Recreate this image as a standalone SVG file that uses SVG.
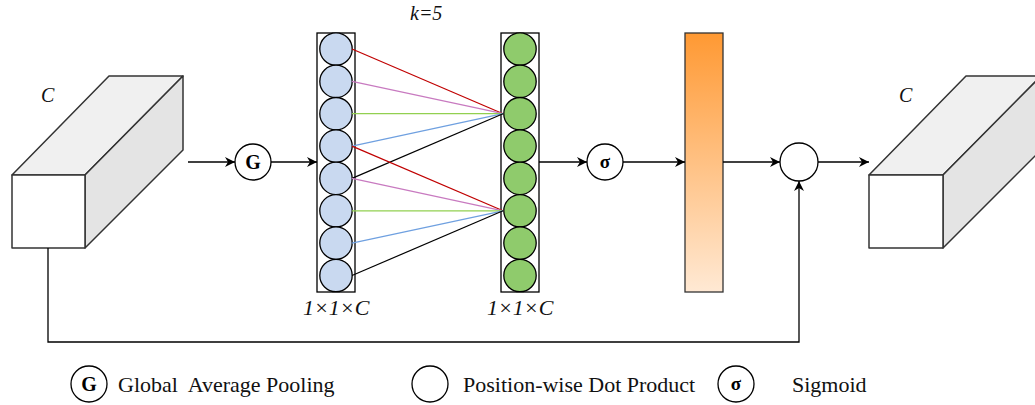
<svg xmlns="http://www.w3.org/2000/svg" width="1035" height="405" viewBox="0 0 1035 405">
  <defs>
    <marker id="arrow" viewBox="0 0 10 10" refX="10" refY="5" markerWidth="10" markerHeight="10" markerUnits="userSpaceOnUse" orient="auto">
      <path d="M0,0 L10,5 L0,10 L3,5 z" fill="#000"/>
    </marker>
    <linearGradient id="attn" x1="0" y1="0" x2="0" y2="1">
      <stop offset="0" stop-color="#FF9933"/>
      <stop offset="1" stop-color="#FFE9D4"/>
    </linearGradient>
    <style>
      .edge { stroke: #000; stroke-width: 1.3; fill: none; }
      .box { stroke: #333; stroke-width: 1.5; stroke-linejoin: round; }
      .op { fill: #fff; stroke: #000; stroke-width: 1.3; }
      .col { fill: #fff; stroke: #000; stroke-width: 1.3; }
      .cin { fill: #C9D9F0; stroke: #000; stroke-width: 1.3; }
      .cout { fill: #8FCB6C; stroke: #000; stroke-width: 1.3; }
      .k { stroke-width: 1.2; fill: none; }
    </style>
  </defs>

  <!-- input feature cuboid -->
  <g id="input-cube">
    <polygon class="box" points="12,175 109,76 183,76 85,175" fill="#F0F0F0"/>
    <polygon class="box" points="85,175 183,76 183,150 85,248" fill="#E4E4E4"/>
    <rect class="box" x="12" y="175" width="73" height="73" fill="#fff"/>
    <text x="41" y="102" font-family="Liberation Serif" font-style="italic" font-size="20" fill="#111">C</text>
  </g>

  <!-- global average pooling -->
  <g id="gap">
    <circle class="op" cx="253" cy="162" r="18"/>
    <text x="253" y="169" font-family="Liberation Serif" font-weight="bold" font-size="20" text-anchor="middle">G</text>
  </g>

  <!-- pooled channel descriptor -->
  <g id="pooled">
    <rect class="col" x="317" y="33" width="38" height="259"/>
    <circle class="cin" cx="336" cy="49" r="16.2"/>
    <circle class="cin" cx="336" cy="81.4" r="16.2"/>
    <circle class="cin" cx="336" cy="113.7" r="16.2"/>
    <circle class="cin" cx="336" cy="146.1" r="16.2"/>
    <circle class="cin" cx="336" cy="178.4" r="16.2"/>
    <circle class="cin" cx="336" cy="210.8" r="16.2"/>
    <circle class="cin" cx="336" cy="243.1" r="16.2"/>
    <circle class="cin" cx="336" cy="275.5" r="16.2"/>
    <text x="303" y="315" font-family="Liberation Serif" font-style="italic" font-size="22" fill="#111">1×1×C</text>
  </g>

  <!-- 1D convolution output -->
  <g id="conv-out">
    <rect class="col" x="501" y="33" width="38" height="259"/>
    <circle class="cout" cx="520" cy="49" r="16.2"/>
    <circle class="cout" cx="520" cy="81.4" r="16.2"/>
    <circle class="cout" cx="520" cy="113.7" r="16.2"/>
    <circle class="cout" cx="520" cy="146.1" r="16.2"/>
    <circle class="cout" cx="520" cy="178.4" r="16.2"/>
    <circle class="cout" cx="520" cy="210.8" r="16.2"/>
    <circle class="cout" cx="520" cy="243.1" r="16.2"/>
    <circle class="cout" cx="520" cy="275.5" r="16.2"/>
    <text x="487" y="315" font-family="Liberation Serif" font-style="italic" font-size="22" fill="#111">1×1×C</text>
  </g>

  <!-- kernel size label -->
  <g id="kernel-label">
    <text x="410" y="20" font-family="Liberation Serif" font-style="italic" font-size="20" fill="#111">k=5</text>
  </g>

  <!-- sigmoid -->
  <g id="sigmoid">
    <circle class="op" cx="605" cy="162" r="18"/>
    <text x="605" y="168" font-family="Liberation Serif" font-weight="bold" font-size="19" text-anchor="middle">σ</text>
  </g>

  <!-- channel weights -->
  <g id="weights">
    <rect x="685" y="33" width="38" height="259" fill="url(#attn)" stroke="#333" stroke-width="1.3"/>
  </g>

  <!-- position-wise dot product -->
  <g id="dot">
    <circle class="op" cx="799" cy="162" r="19"/>
  </g>

  <!-- output feature cuboid -->
  <g id="output-cube">
    <polygon class="box" points="869,175 966,76 1041,76 943,175" fill="#F0F0F0"/>
    <polygon class="box" points="943,175 1041,76 1041,150 943,248" fill="#E4E4E4"/>
    <rect class="box" x="869" y="175" width="74" height="73" fill="#fff"/>
    <text x="899" y="102" font-family="Liberation Serif" font-style="italic" font-size="20" fill="#111">C</text>
  </g>

  <!-- connectors -->
  <g id="connectors">
    <!-- kernel taps into channel 3 -->
    <line class="k" x1="352" y1="49" x2="503" y2="113.7" stroke="#C00000"/>
    <line class="k" x1="352" y1="81.4" x2="503" y2="113.7" stroke="#C87AC0"/>
    <line class="k" x1="352" y1="113.7" x2="503" y2="113.7" stroke="#92D050"/>
    <line class="k" x1="352" y1="146.1" x2="503" y2="113.7" stroke="#6FA0E0"/>
    <line class="k" x1="352" y1="178.4" x2="503" y2="113.7" stroke="#000"/>
    <!-- kernel taps into channel 6 -->
    <line class="k" x1="352" y1="146.1" x2="503" y2="210.8" stroke="#C00000"/>
    <line class="k" x1="352" y1="178.4" x2="503" y2="210.8" stroke="#C87AC0"/>
    <line class="k" x1="352" y1="210.8" x2="503" y2="210.8" stroke="#92D050"/>
    <line class="k" x1="352" y1="243.1" x2="503" y2="210.8" stroke="#6FA0E0"/>
    <line class="k" x1="352" y1="275.5" x2="503" y2="210.8" stroke="#000"/>

    <line class="edge" x1="188" y1="162" x2="235" y2="162" marker-end="url(#arrow)"/>
    <line class="edge" x1="271" y1="162" x2="317" y2="162" marker-end="url(#arrow)"/>
    <line class="edge" x1="539" y1="162" x2="587" y2="162" marker-end="url(#arrow)"/>
    <line class="edge" x1="623" y1="162" x2="685" y2="162" marker-end="url(#arrow)"/>
    <line class="edge" x1="723" y1="162" x2="780" y2="162" marker-end="url(#arrow)"/>
    <line class="edge" x1="818" y1="162" x2="869" y2="162" marker-end="url(#arrow)"/>
    <!-- residual path -->
    <polyline class="edge" points="48,248 48,342 799,342 799,181" marker-end="url(#arrow)"/>
  </g>

  <!-- legend -->
  <g id="legend">
    <circle class="op" cx="89" cy="384" r="18"/>
    <text x="89" y="391" font-family="Liberation Serif" font-weight="bold" font-size="20" text-anchor="middle">G</text>
    <text x="118" y="392" font-family="Liberation Serif" font-size="22" fill="#111" xml:space="preserve">Global  Average Pooling</text>
    <circle class="op" cx="430" cy="384" r="18"/>
    <text x="463" y="392" font-family="Liberation Serif" font-size="22" fill="#111">Position-wise Dot Product</text>
    <circle class="op" cx="736" cy="384" r="18"/>
    <text x="736" y="390" font-family="Liberation Serif" font-weight="bold" font-size="19" text-anchor="middle">σ</text>
    <text x="792" y="392" font-family="Liberation Serif" font-size="22" fill="#111">Sigmoid</text>
  </g>
</svg>
